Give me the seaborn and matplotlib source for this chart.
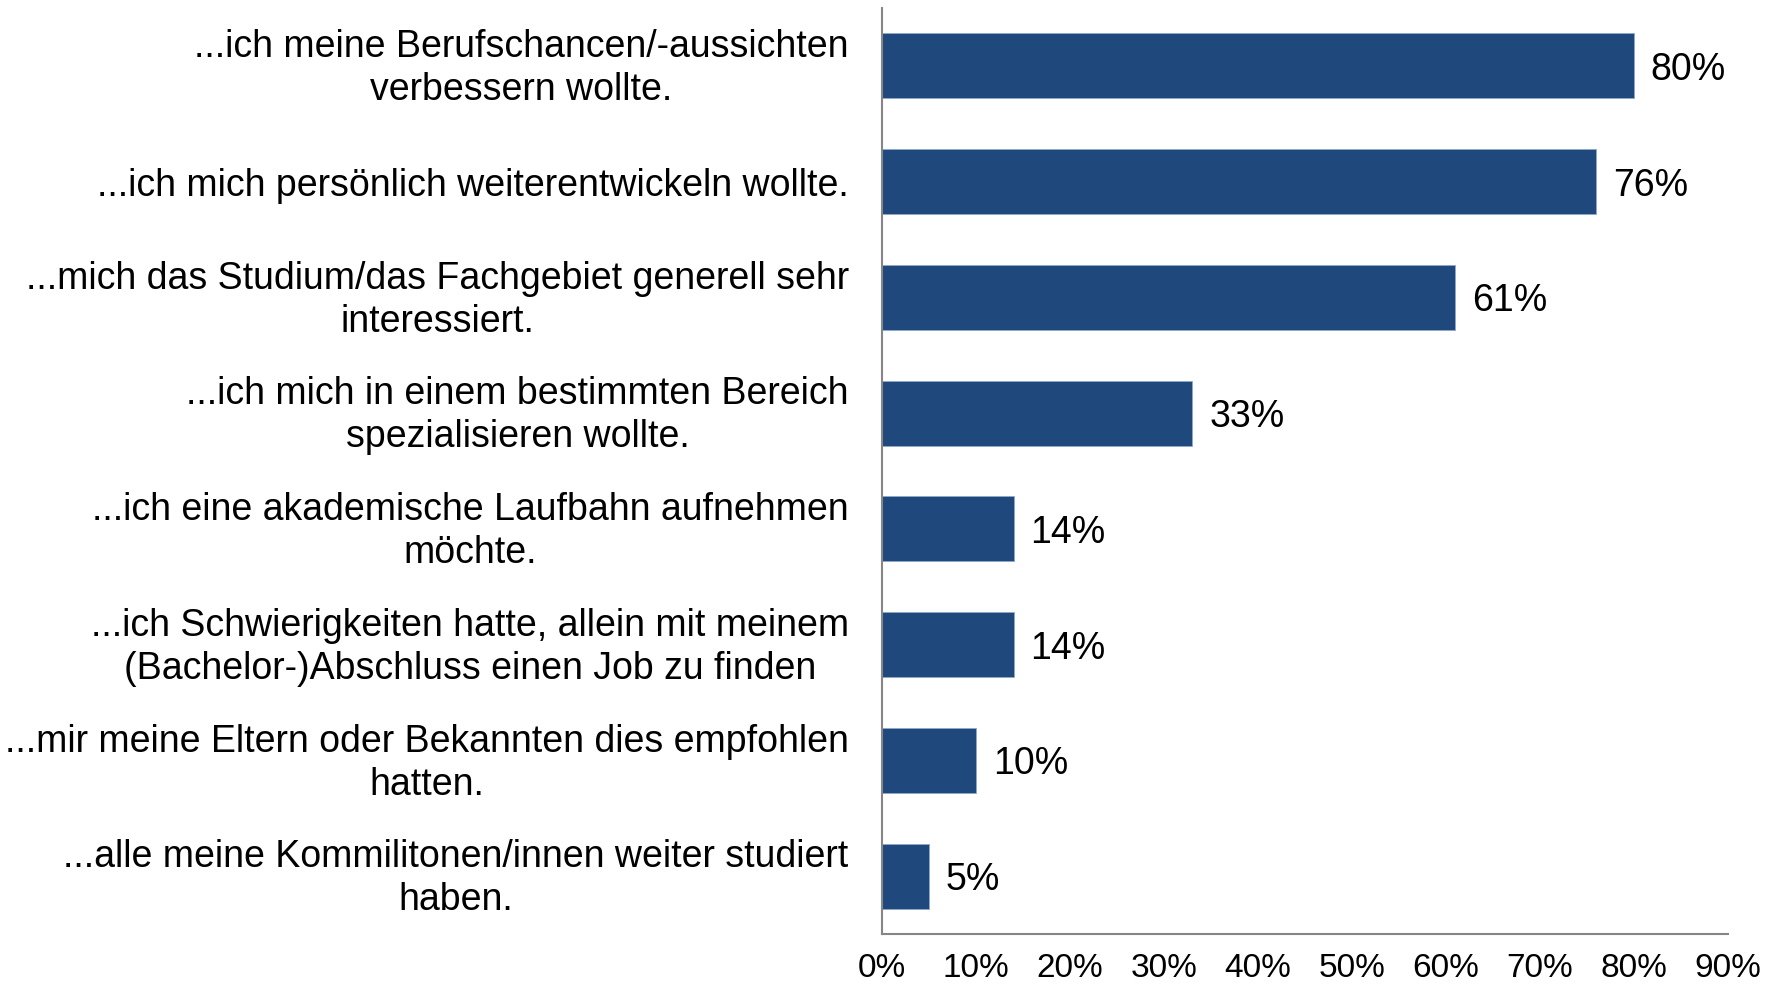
import matplotlib
matplotlib.use("Agg")
import matplotlib.pyplot as plt
import matplotlib.transforms as mtransforms
import seaborn as sns
import pandas as pd
from matplotlib.ticker import PercentFormatter

# data
reasons = [
    "...ich meine Berufschancen/-aussichten\nverbessern wollte.",
    "...ich mich persönlich weiterentwickeln wollte.",
    "...mich das Studium/das Fachgebiet generell sehr\ninteressiert.",
    "...ich mich in einem bestimmten Bereich\nspezialisieren wollte.",
    "...ich eine akademische Laufbahn aufnehmen\nmöchte.",
    "...ich Schwierigkeiten hatte, allein mit meinem\n(Bachelor-)Abschluss einen Job zu finden",
    "...mir meine Eltern oder Bekannten dies empfohlen\nhatten.",
    "...alle meine Kommilitonen/innen weiter studiert\nhaben.",
]
shares = [0.80, 0.76, 0.61, 0.33, 0.14, 0.14, 0.10, 0.05]
value_labels = ["80%", "76%", "61%", "33%", "14%", "14%", "10%", "5%"]
xticks = [0.0, 0.1, 0.2, 0.3, 0.4, 0.5, 0.6, 0.7, 0.8, 0.9]

df = pd.DataFrame({"reason": reasons, "share": shares})

sns.set_style("white")
plt.rcParams["font.family"] = ["Liberation Sans", "DejaVu Sans"]

fig = plt.figure(figsize=(17.79, 9.86), dpi=100)
ax = fig.add_axes([0.4958, 0.0527, 0.4755, 0.9392])

sns.barplot(data=df, x="share", y="reason", orient="h", color="#1F497D",
            saturation=1, width=0.56, edgecolor="#8FA8C8", linewidth=0.6, ax=ax)

for i, (v, lab) in enumerate(zip(shares, value_labels)):
    ax.text(v + 0.018, i, lab, va="center_baseline", ha="left", fontsize=27, color="black")

ax.set_xlim(0, 0.9)
ax.set_ylim(7.5, -0.5)
ax.set_xticks(xticks)
ax.xaxis.set_major_formatter(PercentFormatter(1.0, decimals=0))
ax.set_xlabel("")
ax.set_ylabel("")
ax.tick_params(axis="x", length=0, pad=14, labelsize=24, labelcolor="black")
ax.tick_params(axis="y", length=0, pad=24, labelsize=27, labelcolor="black")

# two-line labels sit a little higher in the original
shift = mtransforms.ScaledTranslation(0, 3.5 / 72, fig.dpi_scale_trans)
for t in ax.get_yticklabels():
    t.set_multialignment("center")
    t.set_linespacing(1.25)
    if "\n" in t.get_text():
        t.set_transform(t.get_transform() + shift)

for s in ["top", "right"]:
    ax.spines[s].set_visible(False)
for s in ["left", "bottom"]:
    ax.spines[s].set_color("#868686")
    ax.spines[s].set_linewidth(1.5)

fig.savefig("out.png", dpi=100, facecolor="white")
